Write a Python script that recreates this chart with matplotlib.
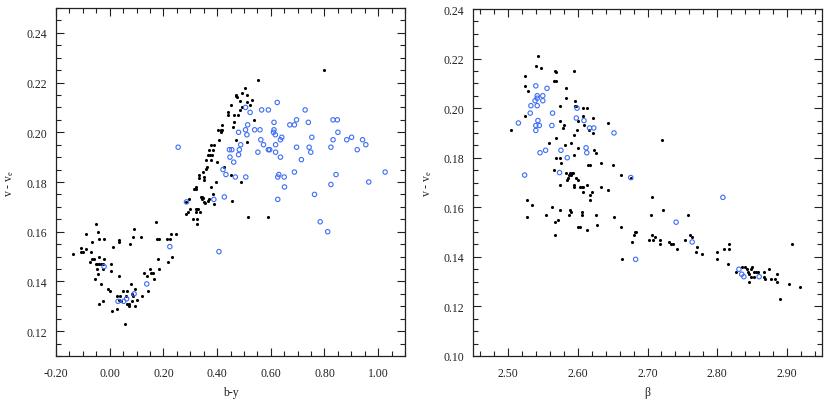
import matplotlib
matplotlib.use("Agg")
import matplotlib.pyplot as plt
from matplotlib.ticker import MultipleLocator

plt.rcParams['font.family'] = ['Liberation Serif', 'DejaVu Serif']
plt.rcParams['mathtext.fontset'] = 'custom'
plt.rcParams['mathtext.rm'] = 'Liberation Serif'
plt.rcParams['mathtext.it'] = 'Liberation Serif:italic'

# ---- Left panel: b-y vs v - v_e ----
by_black = [-0.137, -0.106, -0.108, -0.101, -0.087, -0.088, -0.071, -0.065, -0.052, -0.043,
            -0.039, -0.020, -0.073, -0.067, -0.058, -0.052, -0.046, -0.039, -0.033, -0.026,
            -0.039, -0.046, -0.055, -0.043, -0.032, -0.021, -0.026, 0.004, 0.004, -0.039,
            -0.025, 0.014, 0.035, 0.035, 0.034, -0.005, 0.001, 0.007, 0.026, 0.029,
            0.037, 0.035, 0.041, 0.051, 0.063, 0.056, 0.060, 0.066, 0.071, 0.073,
            0.078, 0.082, 0.084, 0.088, 0.094, 0.093, 0.101, 0.075, 0.087, 0.091,
            0.120, 0.118, 0.128, 0.140, 0.144, 0.149, 0.153, 0.160, 0.166, 0.173,
            0.175, 0.185, 0.179, 0.185, 0.215, 0.224, 0.219, 0.231, 0.229, 0.248,
            0.286, 0.293, 0.299, 0.296, 0.286, 0.312, 0.327, 0.327, 0.320, 0.325,
            0.330, 0.337, 0.320, 0.314, 0.320, 0.320, 0.333, 0.332, 0.339, 0.345,
            0.349, 0.343, 0.352, 0.349, 0.353, 0.353, 0.357, 0.362, 0.354, 0.367,
            0.370, 0.376, 0.359, 0.366, 0.374, 0.371, 0.379, 0.384, 0.381, 0.376,
            0.389, 0.396, 0.386, 0.389, 0.401, 0.405, 0.414, 0.419, 0.414, 0.409,
            0.420, 0.426, 0.439, 0.441, 0.451, 0.460, 0.462, 0.463, 0.478, 0.470,
            0.471, 0.472, 0.476, 0.452, 0.454, 0.487, 0.486, 0.492, 0.494, 0.505,
            0.511, 0.513, 0.523, 0.530, 0.537, 0.513, 0.488, 0.516, 0.552, 0.591,
            0.800]
vve_black_l = [0.151, 0.1533, 0.152, 0.152, 0.153, 0.159, 0.152, 0.156, 0.163, 0.160,
               0.157, 0.157, 0.148, 0.149, 0.149, 0.147, 0.147, 0.147, 0.147, 0.147,
               0.150, 0.145, 0.141, 0.143, 0.139, 0.149, 0.145, 0.147, 0.144, 0.131,
               0.132, 0.154, 0.1565, 0.156, 0.142, 0.137, 0.136, 0.128, 0.129, 0.134,
               0.134, 0.1325, 0.132, 0.136, 0.136, 0.123, 0.134, 0.131, 0.130, 0.131,
               0.139, 0.135, 0.132, 0.134, 0.130, 0.137, 0.1325, 0.155, 0.158, 0.161,
               0.134, 0.158, 0.1435, 0.142, 0.136, 0.145, 0.1435, 0.1435, 0.141, 0.164,
               0.157, 0.157, 0.149, 0.145, 0.157, 0.157, 0.148, 0.150, 0.159, 0.159,
               0.167, 0.168, 0.169, 0.173, 0.172, 0.165, 0.165, 0.163, 0.169, 0.169,
               0.169, 0.168, 0.168, 0.177, 0.177, 0.178, 0.183, 0.1817, 0.174, 0.174,
               0.1735, 0.173, 0.172, 0.184, 0.182, 0.181, 0.1853, 0.186, 0.1715, 0.1725,
               0.173, 0.178, 0.189, 0.191, 0.191, 0.193, 0.195, 0.193, 0.191, 0.189,
               0.1948, 0.180, 0.175, 0.1713, 0.188, 0.201, 0.201, 0.201, 0.200, 0.197,
               0.203, 0.186, 0.208, 0.207, 0.211, 0.202, 0.204, 0.207, 0.207, 0.197,
               0.2145, 0.215, 0.214, 0.183, 0.1725, 0.209, 0.2127, 0.216, 0.210, 0.218,
               0.215, 0.212, 0.211, 0.213, 0.205, 0.196, 0.180, 0.166, 0.221, 0.166,
               0.225]
by_blue = [-0.021, 0.031, 0.052, 0.063, 0.091, 0.138, 0.224, 0.255, 0.286, 0.388,
           0.407, 0.422, 0.427, 0.433, 0.446, 0.455, 0.448, 0.462, 0.468, 0.480,
           0.480, 0.483, 0.488, 0.506, 0.506, 0.511, 0.514, 0.507, 0.523, 0.540,
           0.552, 0.560, 0.563, 0.566, 0.573, 0.591, 0.591, 0.596, 0.610, 0.612,
           0.612, 0.617, 0.618, 0.618, 0.624, 0.626, 0.630, 0.626, 0.636, 0.641,
           0.636, 0.650, 0.651, 0.671, 0.688, 0.688, 0.696, 0.696, 0.714, 0.728,
           0.740, 0.743, 0.749, 0.753, 0.763, 0.784, 0.812, 0.824, 0.824, 0.832,
           0.832, 0.848, 0.843, 0.850, 0.883, 0.901, 0.922, 0.942, 0.954, 0.965,
           1.026]
vve_blue_l = [0.146, 0.132, 0.132, 0.133, 0.135, 0.139, 0.154, 0.194, 0.172, 0.173,
              0.152, 0.185, 0.174, 0.183, 0.193, 0.193, 0.190, 0.188, 0.182, 0.200,
              0.191, 0.193, 0.195, 0.210, 0.201, 0.199, 0.203, 0.182, 0.208, 0.201,
              0.192, 0.201, 0.197, 0.209, 0.195, 0.209, 0.193, 0.193, 0.200, 0.204,
              0.201, 0.199, 0.195, 0.192, 0.212, 0.182, 0.183, 0.173, 0.197, 0.198,
              0.190, 0.182, 0.178, 0.203, 0.203, 0.184, 0.194, 0.205, 0.189, 0.209,
              0.204, 0.194, 0.192, 0.198, 0.175, 0.164, 0.160, 0.194, 0.179, 0.197,
              0.205, 0.205, 0.183, 0.200, 0.197, 0.198, 0.193, 0.197, 0.195, 0.180,
              0.184]

# ---- Right panel: beta vs v - v_e ----
beta_black = [2.504, 2.524, 2.524, 2.525, 2.529, 2.527, 2.527, 2.535, 2.540, 2.543,
              2.547, 2.555, 2.559, 2.563, 2.566, 2.567, 2.567, 2.566, 2.569, 2.568,
              2.569, 2.569, 2.569, 2.572, 2.575, 2.575, 2.575, 2.576, 2.575, 2.575,
              2.579, 2.581, 2.582, 2.583, 2.583, 2.583, 2.584, 2.586, 2.587, 2.588,
              2.589, 2.590, 2.589, 2.591, 2.592, 2.593, 2.591, 2.594, 2.595, 2.594,
              2.594, 2.595, 2.596, 2.596, 2.598, 2.597, 2.599, 2.600, 2.601, 2.600,
              2.601, 2.603, 2.604, 2.606, 2.607, 2.607, 2.607, 2.606, 2.606, 2.608,
              2.609, 2.613, 2.614, 2.614, 2.615, 2.616, 2.617, 2.618, 2.618, 2.621,
              2.622, 2.622, 2.623, 2.626, 2.626, 2.628, 2.633, 2.634, 2.643, 2.643,
              2.650, 2.652, 2.662, 2.662, 2.663, 2.676, 2.678, 2.681, 2.682, 2.684,
              2.702, 2.705, 2.707, 2.707, 2.708, 2.711, 2.718, 2.718, 2.721, 2.722,
              2.731, 2.734, 2.736, 2.742, 2.754, 2.758, 2.761, 2.764, 2.769, 2.771,
              2.778, 2.799, 2.799, 2.809, 2.816, 2.817, 2.817, 2.827, 2.836, 2.839,
              2.842, 2.844, 2.845, 2.848, 2.849, 2.848, 2.846, 2.852, 2.853, 2.855,
              2.858, 2.867, 2.867, 2.868, 2.874, 2.877, 2.885, 2.885, 2.890, 2.903,
              2.907, 2.919, 2.883]
vve_black_r = [0.191, 0.197, 0.209, 0.213, 0.207, 0.163, 0.156, 0.161, 0.217, 0.221,
               0.216, 0.157, 0.186, 0.160, 0.175, 0.154, 0.149, 0.211, 0.211, 0.215,
               0.2145, 0.188, 0.180, 0.155, 0.201, 0.195, 0.180, 0.178, 0.169, 0.159,
               0.192, 0.193, 0.185, 0.174, 0.208, 0.204, 0.171, 0.172, 0.173, 0.157,
               0.159, 0.158, 0.174, 0.173, 0.174, 0.174, 0.186, 0.169, 0.168, 0.189,
               0.181, 0.215, 0.203, 0.201, 0.201, 0.172, 0.191, 0.171, 0.184, 0.195,
               0.152, 0.152, 0.168, 0.168, 0.168, 0.200, 0.197, 0.158, 0.157, 0.166,
               0.193, 0.200, 0.169, 0.151, 0.177, 0.191, 0.163, 0.177, 0.165, 0.166,
               0.196, 0.190, 0.183, 0.182, 0.157, 0.153, 0.178, 0.168, 0.194, 0.167,
               0.177, 0.156, 0.152, 0.173, 0.139, 0.172, 0.146, 0.149, 0.150, 0.150,
               0.147, 0.157, 0.164, 0.149, 0.147, 0.148, 0.147, 0.145, 0.187, 0.159,
               0.146, 0.145, 0.145, 0.143, 0.147, 0.157, 0.149, 0.148, 0.142, 0.144,
               0.141, 0.142, 0.139, 0.143, 0.137, 0.145, 0.143, 0.134, 0.136, 0.136,
               0.135, 0.134, 0.133, 0.135, 0.136, 0.132, 0.130, 0.132, 0.134, 0.134,
               0.134, 0.134, 0.132, 0.131, 0.135, 0.131, 0.133, 0.130, 0.123, 0.129,
               0.145, 0.128, 0.131]
beta_blue = [2.515, 2.524, 2.532, 2.533, 2.539, 2.540, 2.540, 2.540, 2.542, 2.542,
             2.542, 2.543, 2.545, 2.546, 2.550, 2.550, 2.554, 2.556, 2.563, 2.564,
             2.574, 2.576, 2.585, 2.598, 2.599, 2.609, 2.612, 2.613, 2.617, 2.623,
             2.652, 2.676, 2.683, 2.741, 2.764, 2.808, 2.831, 2.835, 2.838, 2.860]
vve_blue_r = [0.194, 0.173, 0.198, 0.201, 0.203, 0.209, 0.193, 0.191, 0.204, 0.205,
              0.201, 0.195, 0.193, 0.182, 0.205, 0.203, 0.183, 0.208, 0.193, 0.198,
              0.174, 0.183, 0.180, 0.196, 0.200, 0.195, 0.184, 0.182, 0.192, 0.192,
              0.190, 0.172, 0.139, 0.154, 0.146, 0.164, 0.135, 0.133, 0.132, 0.132]

BLUE = '#3d6ef5'
FRAME = '#222222'

fig = plt.figure(figsize=(8.32, 4.06), dpi=100)
ax1 = fig.add_axes([56/832, 49/406, 349/832, 348/406])
ax2 = fig.add_axes([473/832, 49/406, 349/832, 347/406])


def style(ax):
    for s in ax.spines.values():
        s.set_color(FRAME)
        s.set_linewidth(0.9)
    ax.tick_params(which='both', direction='in', top=True, right=True,
                   colors=FRAME, labelcolor='#222222', labelsize=8.5, width=0.8)
    ax.tick_params(which='major', length=6)
    ax.tick_params(which='minor', length=3.5)
    ax.tick_params(axis='y', which='major', pad=6.5)
    ax.tick_params(axis='x', which='major', pad=8)


for ax, xb, yb, xc, yc in [(ax1, by_black, vve_black_l, by_blue, vve_blue_l),
                           (ax2, beta_black, vve_black_r, beta_blue, vve_blue_r)]:
    ax.scatter(xb, yb, s=5, c='black', marker='o', linewidths=0, zorder=3)
    ax.scatter(xc, yc, s=10, facecolors='none', edgecolors=BLUE,
               linewidths=0.8, zorder=4)
    style(ax)
    ax.set_ylabel(r'v - v$_{\mathregular{e}}$', fontsize=8.5, color='#222222',
                  labelpad=7)

ax1.set_xlim(-0.20, 1.10)
ax1.set_ylim(0.11, 0.25)
ax1.xaxis.set_major_locator(MultipleLocator(0.2))
ax1.xaxis.set_minor_locator(MultipleLocator(0.05))
ax1.yaxis.set_major_locator(MultipleLocator(0.02))
ax1.yaxis.set_minor_locator(MultipleLocator(0.005))
ax1.xaxis.set_major_formatter(plt.FuncFormatter(lambda v, p: '%.2f' % v))
ax1.yaxis.set_major_formatter(plt.FuncFormatter(lambda v, p: '%.2f' % v))
ax1.set_xlabel('b-y', fontsize=8.5, color='#222222', labelpad=5)

ax2.set_xlim(2.45, 2.95)
ax2.set_ylim(0.10, 0.24)
ax2.xaxis.set_major_locator(MultipleLocator(0.1))
ax2.xaxis.set_minor_locator(MultipleLocator(0.02))
ax2.yaxis.set_major_locator(MultipleLocator(0.02))
ax2.yaxis.set_minor_locator(MultipleLocator(0.005))
ax2.xaxis.set_major_formatter(plt.FuncFormatter(lambda v, p: '%.2f' % v))
ax2.yaxis.set_major_formatter(plt.FuncFormatter(lambda v, p: '%.2f' % v))
ax2.set_xlabel('β', fontsize=8.5, color='#222222', labelpad=5)

fig.savefig('out.png', dpi=100)
